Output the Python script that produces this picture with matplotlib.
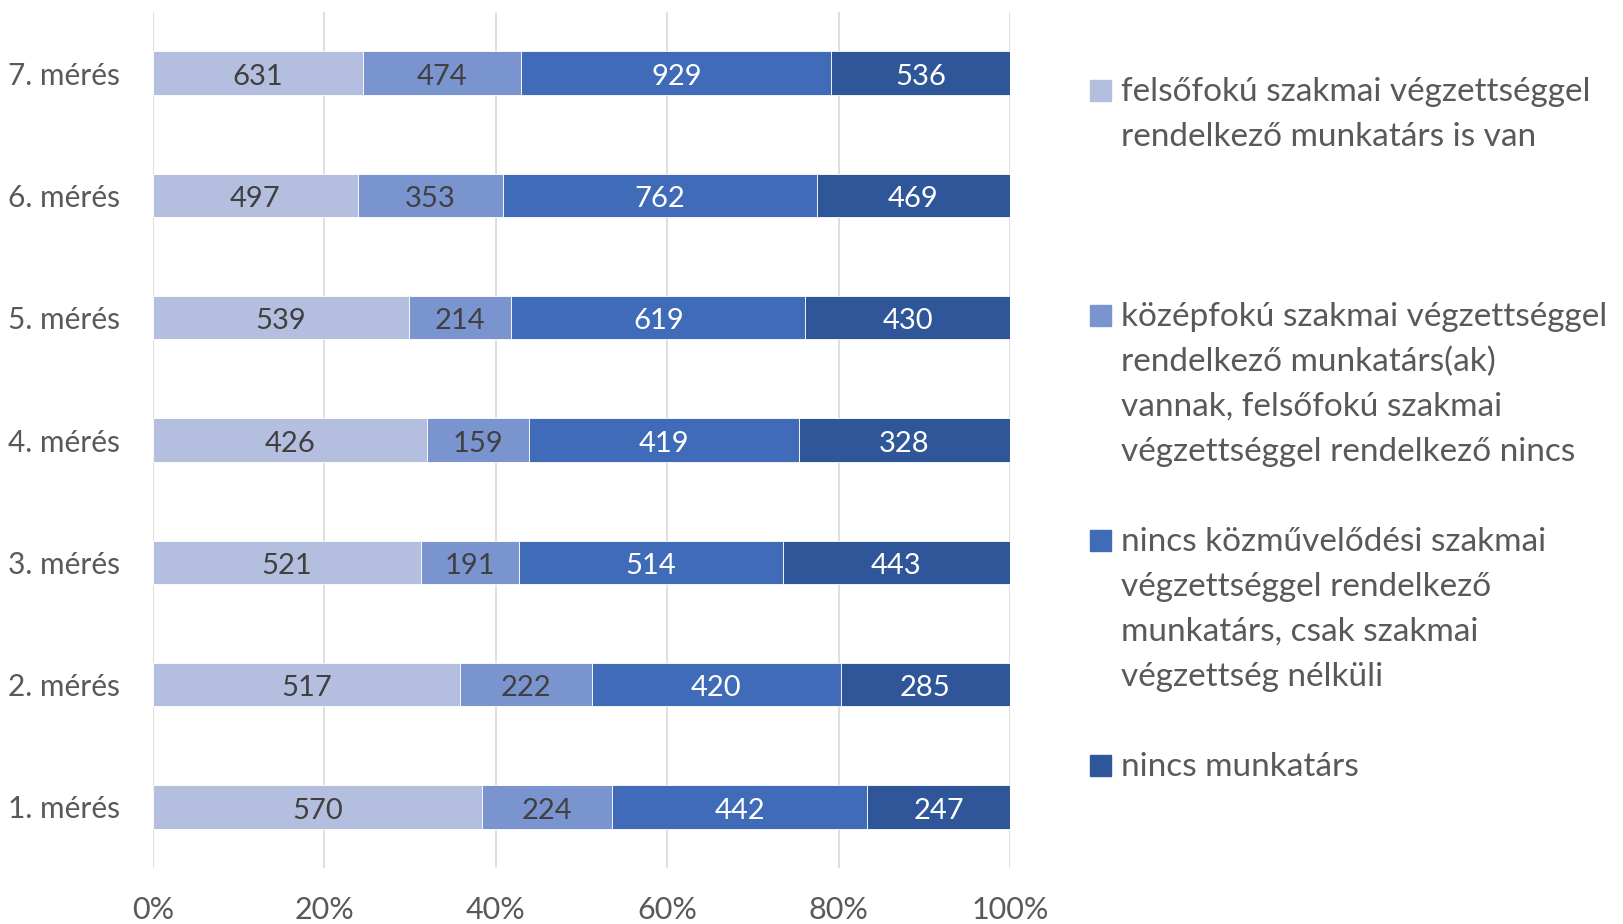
import matplotlib
matplotlib.use("Agg")
import matplotlib.pyplot as plt
import numpy as np

plt.rcParams['font.family'] = ['Lato', 'DejaVu Sans']

categories = ["1. mérés", "2. mérés", "3. mérés", "4. mérés", "5. mérés", "6. mérés", "7. mérés"]
series_names = [
    ["felsőfokú szakmai végzettséggel", "rendelkező munkatárs is van"],
    ["középfokú szakmai végzettséggel", "rendelkező munkatárs(ak)",
     "vannak, felsőfokú szakmai", "végzettséggel rendelkező nincs"],
    ["nincs közművelődési szakmai", "végzettséggel rendelkező",
     "munkatárs, csak szakmai", "végzettség nélküli"],
    ["nincs munkatárs"],
]
felsofoku = [570, 517, 521, 426, 539, 497, 631]
kozepfoku = [224, 222, 191, 159, 214, 353, 474]
nincs_kozmuv = [442, 420, 514, 419, 619, 762, 929]
nincs_munkatars = [247, 285, 443, 328, 430, 469, 536]
xticks = [0, 20, 40, 60, 80, 100]
xtick_labels = ["0%", "20%", "40%", "60%", "80%", "100%"]

colors = ["#B4BFE0", "#7A94D0", "#3F6BB8", "#30569A"]
label_colors = ["#404040", "#404040", "white", "white"]
text_gray = "#595959"

data = np.array([felsofoku, kozepfoku, nincs_kozmuv, nincs_munkatars], dtype=float)
totals = data.sum(axis=0)
pct = data / totals * 100

W, H = 1624, 924
fig = plt.figure(figsize=(W / 100, H / 100), dpi=100)
ax = fig.add_axes([153 / W, 1 - 868 / H, (1010 - 153) / W, (868 - 12) / H])

y = np.arange(len(categories))
left = np.zeros(len(categories))
for i in range(4):
    ax.barh(y, pct[i], left=left, height=0.355, color=colors[i], edgecolor="white", linewidth=0.6, zorder=3)
    for j in range(len(categories)):
        ax.text(left[j] + pct[i][j] / 2, y[j] - 0.01, f"{int(data[i][j])}", ha="center", va="center_baseline",
                color=label_colors[i], fontsize=21, zorder=4)
    left += pct[i]

ax.set_xlim(0, 100)
ax.set_ylim(-0.5, 6.5)
ax.set_xticks(xticks)
ax.set_xticklabels(xtick_labels)
ax.set_yticks(y)
ax.set_yticklabels(categories)
ax.tick_params(axis="x", length=0, pad=20.5, labelsize=22, labelcolor=text_gray)
ax.tick_params(axis="y", length=0, pad=24, labelsize=21.5, labelcolor=text_gray)
ax.grid(axis="x", color="#D9D9D9", linewidth=1.2, zorder=0)
for s in ax.spines.values():
    s.set_visible(False)

# legend (manual, Excel-style spacing)
square_tops = [80, 305, 530, 755]
line_step = 45
for i, lines in enumerate(series_names):
    top = square_tops[i]
    fig.patches.append(plt.Rectangle((1090 / W, 1 - (top + 20.7) / H), 20.7 / W, 20.7 / H,
                                     transform=fig.transFigure, color=colors[i], figure=fig))
    for k, line in enumerate(lines):
        base = top + 21 + k * line_step
        fig.text(1121 / W, 1 - base / H, line, ha="left", va="baseline", fontsize=24,
                 color=text_gray)

fig.savefig("out.png", dpi=100)
